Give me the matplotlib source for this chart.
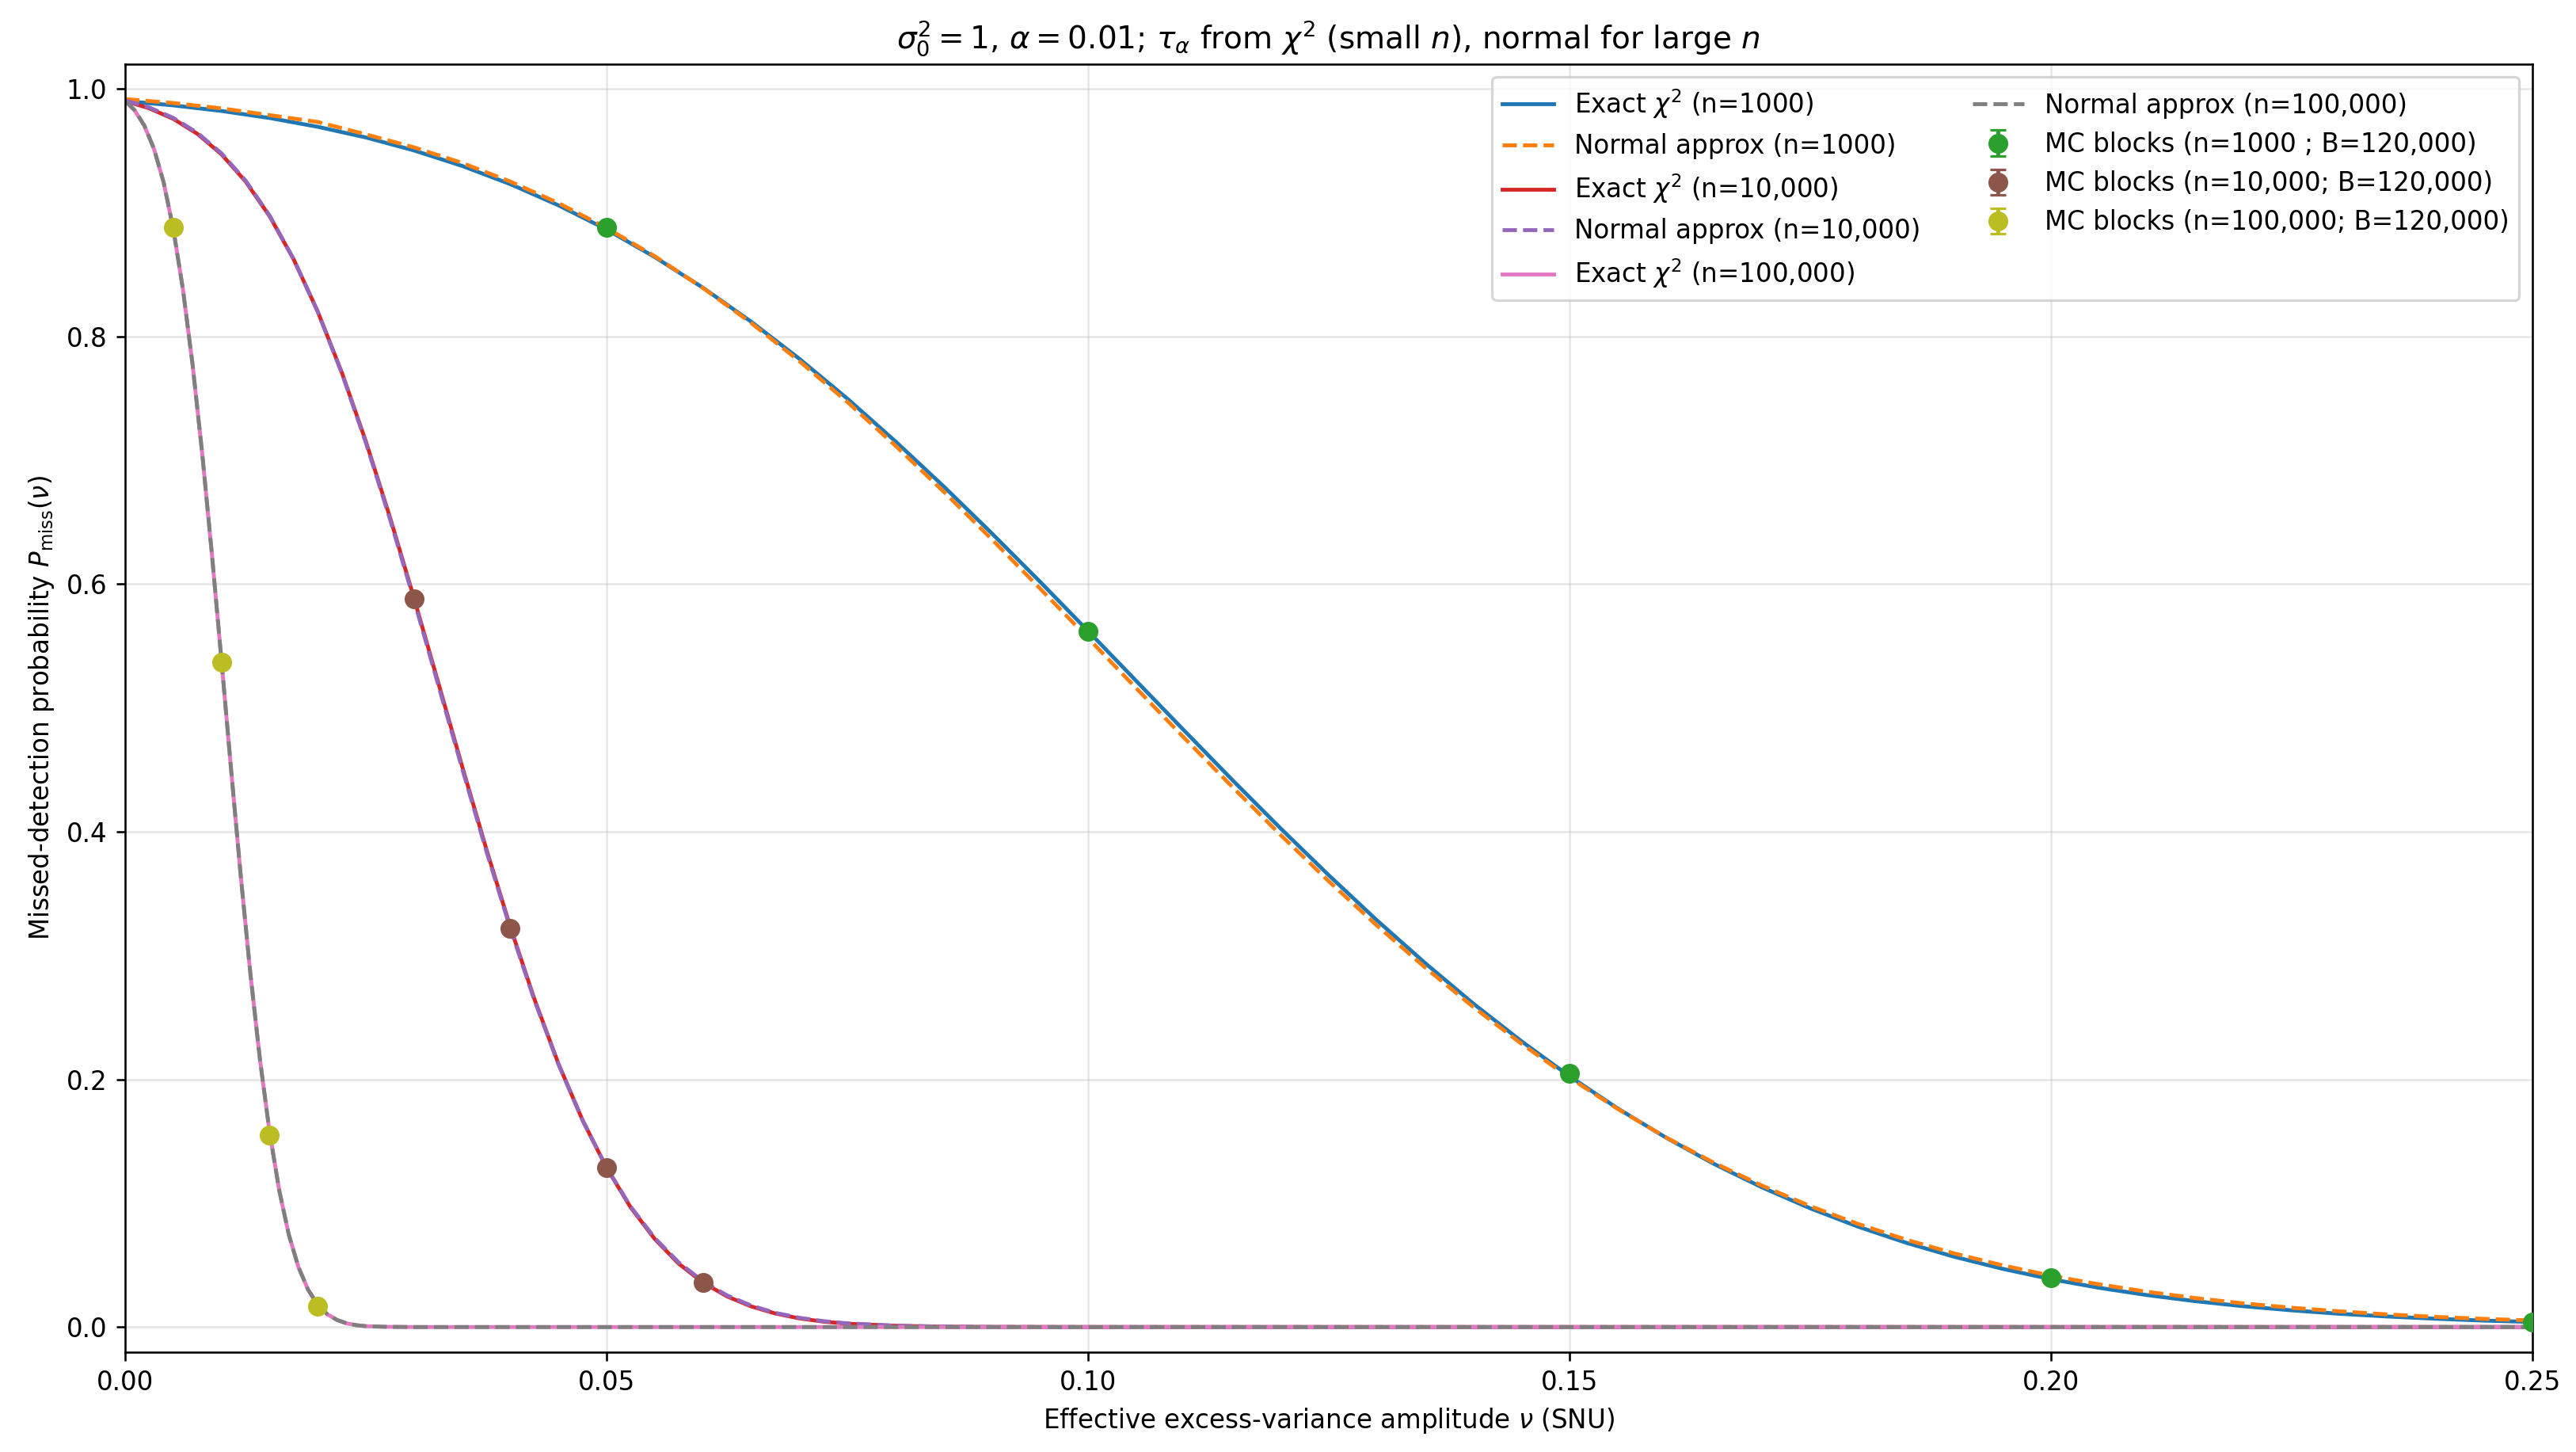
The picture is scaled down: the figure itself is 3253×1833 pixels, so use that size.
import matplotlib
matplotlib.use("Agg")
import matplotlib.pyplot as plt

# nu grid and P_miss, n = 1000
nu_1k = [0.000, 0.005, 0.010, 0.015, 0.020, 0.025, 0.030, 0.035, 0.040, 0.045, 0.050,
         0.055, 0.060, 0.065, 0.070, 0.075, 0.080, 0.085, 0.090, 0.095, 0.100,
         0.105, 0.110, 0.115, 0.120, 0.125, 0.130, 0.135, 0.140, 0.145, 0.150,
         0.155, 0.160, 0.165, 0.170, 0.175, 0.180, 0.185, 0.190, 0.195, 0.200,
         0.205, 0.210, 0.215, 0.220, 0.225, 0.230, 0.235, 0.240, 0.245, 0.250]
exact_1k = [0.9900, 0.9865, 0.9820, 0.9763, 0.9692, 0.9606, 0.9501, 0.9376, 0.9229, 0.9058, 0.8863,
            0.8640, 0.8393, 0.8119, 0.7820, 0.7497, 0.7152, 0.6789, 0.6410, 0.6020, 0.5621,
            0.5218, 0.4816, 0.4417, 0.4027, 0.3649, 0.3285, 0.2940, 0.2613, 0.2309, 0.2026,
            0.1766, 0.1531, 0.1318, 0.1128, 0.0959, 0.0810, 0.0680, 0.0567, 0.0470, 0.0387,
            0.0317, 0.0258, 0.0209, 0.0168, 0.0135, 0.0107, 0.0085, 0.0067, 0.0052, 0.0041]
normal_1k = [0.9916, 0.9884, 0.9841, 0.9786, 0.9731, 0.9631, 0.9526, 0.9400, 0.9250, 0.9076, 0.8875,
             0.8647, 0.8391, 0.8109, 0.7801, 0.7470, 0.7117, 0.6747, 0.6362, 0.5965, 0.5564,
             0.5159, 0.4757, 0.4361, 0.3974, 0.3600, 0.3243, 0.2904, 0.2586, 0.2289, 0.2014,
             0.1762, 0.1533, 0.1327, 0.1142, 0.0977, 0.0832, 0.0705, 0.0594, 0.0498, 0.0415,
             0.0345, 0.0285, 0.0234, 0.0191, 0.0156, 0.0127, 0.0102, 0.0082, 0.0066, 0.0053]

# n = 10,000
nu_10k = [0.0, 0.0025, 0.005, 0.0075, 0.01, 0.0125, 0.015, 0.0175, 0.02, 0.0225, 0.025,
          0.0275, 0.03, 0.0325, 0.035, 0.0375, 0.04, 0.0425, 0.045, 0.0475, 0.05, 0.0525,
          0.055, 0.0575, 0.06, 0.0625, 0.065, 0.0675, 0.07, 0.0725, 0.075, 0.08, 0.085,
          0.09, 0.10, 0.15, 0.20, 0.25]
exact_10k = [0.9900, 0.9841, 0.9756, 0.9635, 0.9470, 0.9251, 0.8970, 0.8621, 0.8200, 0.7708,
             0.7151, 0.6539, 0.5885, 0.5208, 0.4527, 0.3862, 0.3231, 0.2649, 0.2126, 0.1671,
             0.1286, 0.0966, 0.0711, 0.0511, 0.0360, 0.0248, 0.0167, 0.0110, 0.0070, 0.0044,
             0.0027, 0.0010, 0.0003, 0.0001, 0.0, 0.0, 0.0, 0.0]
normal_10k = [0.9905, 0.9848, 0.9764, 0.9643, 0.9478, 0.9258, 0.8975, 0.8623, 0.8198, 0.7702,
              0.7140, 0.6524, 0.5868, 0.5189, 0.4509, 0.3846, 0.3218, 0.2639, 0.2121, 0.1671,
              0.1288, 0.0973, 0.0719, 0.0521, 0.0369, 0.0256, 0.0174, 0.0115, 0.0075, 0.0048,
              0.0030, 0.0011, 0.0004, 0.0001, 0.0, 0.0, 0.0, 0.0]

# n = 100,000
nu_100k = [0.0, 0.001, 0.002, 0.003, 0.004, 0.005, 0.006, 0.007, 0.008, 0.009, 0.010,
           0.011, 0.012, 0.013, 0.014, 0.015, 0.016, 0.017, 0.018, 0.019, 0.020, 0.021,
           0.022, 0.023, 0.024, 0.025, 0.027, 0.030, 0.05, 0.10, 0.15, 0.20, 0.25]
exact_100k = [0.9900, 0.9822, 0.9699, 0.9511, 0.9240, 0.8866, 0.8378, 0.7771, 0.7053, 0.6246,
              0.5382, 0.4501, 0.3645, 0.2855, 0.2158, 0.1572, 0.1103, 0.0744, 0.0483, 0.0301,
              0.0180, 0.0103, 0.0057, 0.0030, 0.0015, 0.0007, 0.0002, 0.0, 0.0, 0.0, 0.0, 0.0, 0.0]
normal_100k = [0.9902, 0.9825, 0.9701, 0.9513, 0.9241, 0.8866, 0.8378, 0.7771, 0.7053, 0.6246,
               0.5382, 0.4501, 0.3645, 0.2855, 0.2158, 0.1572, 0.1103, 0.0744, 0.0483, 0.0301,
               0.0180, 0.0103, 0.0057, 0.0030, 0.0015, 0.0007, 0.0002, 0.0, 0.0, 0.0, 0.0, 0.0, 0.0]

# Monte Carlo block estimates
mc_nu_1k = [0.05, 0.10, 0.15, 0.20, 0.25]
mc_p_1k = [0.888, 0.562, 0.205, 0.040, 0.004]
mc_nu_10k = [0.03, 0.04, 0.05, 0.06]
mc_p_10k = [0.588, 0.322, 0.129, 0.036]
mc_nu_100k = [0.005, 0.010, 0.015, 0.020]
mc_p_100k = [0.888, 0.537, 0.155, 0.017]
mc_se_1k = [0.0009, 0.0014, 0.0012, 0.0006, 0.0002]
mc_se_10k = [0.0014, 0.0013, 0.0010, 0.0005]
mc_se_100k = [0.0009, 0.0014, 0.0010, 0.0004]

DPI = 234
fig = plt.figure(figsize=(3253 / DPI, 1833 / DPI), dpi=DPI)
ax = fig.add_axes([0.0486, 0.069, 0.9344, 0.887])

ax.plot(nu_1k, exact_1k, color="C0", label=r"Exact $\chi^2$ (n=1000)")
ax.plot(nu_1k, normal_1k, color="C1", ls="--", label="Normal approx (n=1000)")
ax.errorbar(mc_nu_1k, mc_p_1k, yerr=mc_se_1k, fmt="o", ms=6.7, color="C2", capsize=3,
            label="MC blocks (n=1000 ; B=120,000)", zorder=5)

ax.plot(nu_10k, exact_10k, color="C3", label=r"Exact $\chi^2$ (n=10,000)")
ax.plot(nu_10k, normal_10k, color="C4", ls="--", label="Normal approx (n=10,000)")
ax.errorbar(mc_nu_10k, mc_p_10k, yerr=mc_se_10k, fmt="o", ms=6.7, color="C5", capsize=3,
            label="MC blocks (n=10,000; B=120,000)", zorder=5)

ax.plot(nu_100k, exact_100k, color="C6", label=r"Exact $\chi^2$ (n=100,000)")
ax.plot(nu_100k, normal_100k, color="C7", ls="--", label="Normal approx (n=100,000)")
ax.errorbar(mc_nu_100k, mc_p_100k, yerr=mc_se_100k, fmt="o", ms=6.7, color="C8", capsize=3,
            label="MC blocks (n=100,000; B=120,000)", zorder=5)

ax.set_xlim(0, 0.25)
ax.set_ylim(-0.02, 1.02)
ax.grid(alpha=0.3)
ax.set_xlabel(r"Effective excess-variance amplitude $\nu$ (SNU)")
ax.set_ylabel(r"Missed-detection probability $P_{\rm miss}(\nu)$")
ax.set_title(r"$\sigma_0^2=1$, $\alpha=0.01$; $\tau_\alpha$ from $\chi^2$ (small $n$), normal for large $n$")
ax.legend(ncol=2, loc="upper right")

fig.savefig("out.png", dpi=DPI)
